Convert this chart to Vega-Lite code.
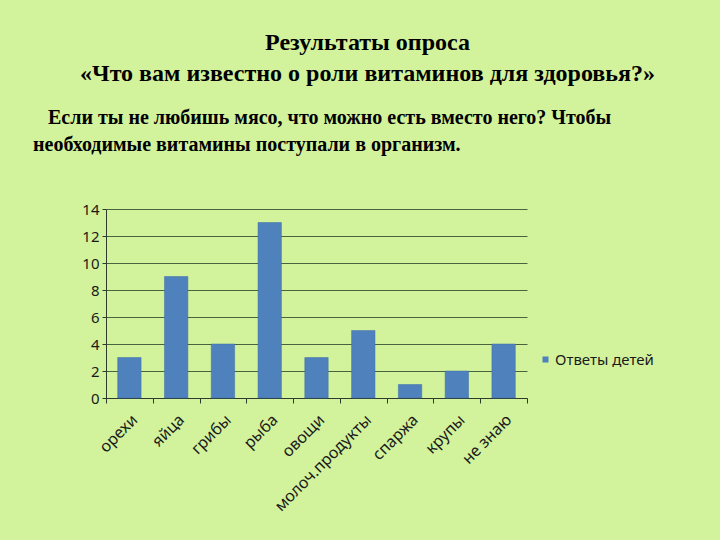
{
  "$schema": "https://vega.github.io/schema/vega-lite/v6.json",
  "background": "#d2f29c",
  "padding": {"left": 33, "top": 31, "right": 65, "bottom": 40},
  "title": {
    "text": ["Результаты опроса", "«Что вам известно о роли витаминов для здоровья?»"],
    "font": "Liberation Serif",
    "fontSize": 24,
    "fontWeight": "bold",
    "color": "#000000",
    "anchor": "middle",
    "dx": 24,
    "lineHeight": 31,
    "offset": 22
  },
  "vconcat": [
    {
      "width": 421,
      "height": 189,
      "title": {
        "text": ["\u200b\u00a0\u00a0\u00a0Если ты не любишь мясо, что можно есть вместо него? Чтобы", "необходимые витамины поступали в организм."],
        "anchor": "start",
        "frame": "group",
        "dx": -73,
        "font": "Liberation Serif",
        "fontSize": 20,
        "fontWeight": "bold",
        "color": "#000000",
        "lineHeight": 27,
        "offset": 47
      },
      "data": {
        "values": [
          {"item": "орехи", "count": 3, "series": "Ответы детей"},
          {"item": "яйца", "count": 9, "series": "Ответы детей"},
          {"item": "грибы", "count": 4, "series": "Ответы детей"},
          {"item": "рыба", "count": 13, "series": "Ответы детей"},
          {"item": "овощи", "count": 3, "series": "Ответы детей"},
          {"item": "молоч.продукты", "count": 5, "series": "Ответы детей"},
          {"item": "спаржа", "count": 1, "series": "Ответы детей"},
          {"item": "крупы", "count": 2, "series": "Ответы детей"},
          {"item": "не знаю", "count": 4, "series": "Ответы детей"}
        ]
      },
      "mark": {"type": "bar", "width": {"band": 0.5}, "stroke": "#3f6ea8", "strokeWidth": 0.5},
      "encoding": {
        "x": {
          "field": "item",
          "type": "nominal",
          "sort": null,
          "title": null,
          "scale": {"paddingInner": 0, "paddingOuter": 0},
          "axis": {
            "tickBand": "extent",
            "labelAngle": -45,
            "labelAlign": "right",
            "labelBaseline": "middle",
            "labelPadding": 14,
            "labelOffset": 5,
            "labelFont": "Noto Sans",
            "labelFontSize": 16,
            "labelColor": "#1a1a1a",
            "domainColor": "#2e3a2e",
            "tickColor": "#2e3a2e",
            "tickSize": 5,
            "grid": false
          }
        },
        "y": {
          "field": "count",
          "type": "quantitative",
          "title": null,
          "scale": {"domain": [0, 14]},
          "axis": {
            "values": [0, 2, 4, 6, 8, 10, 12, 14],
            "labelFont": "Noto Sans",
            "labelFontSize": 15,
            "labelColor": "#1a1a1a",
            "labelPadding": 3,
            "domainColor": "#2e3a2e",
            "tickColor": "#2e3a2e",
            "tickSize": 4,
            "grid": true,
            "gridColor": "#2f4a2f",
            "gridOpacity": 0.85
          }
        },
        "color": {
          "field": "series",
          "type": "nominal",
          "scale": {"range": ["#4f81bd"]},
          "legend": {
            "title": null,
            "orient": "none",
            "legendX": 432,
            "legendY": 143,
            "symbolType": "square",
            "symbolSize": 36,
            "symbolStrokeWidth": 0,
            "labelFont": "Noto Sans",
            "labelFontSize": 15,
            "labelColor": "#1a1a1a",
            "labelOffset": 2,
            "padding": 0
          }
        }
      }
    }
  ],
  "config": {
    "view": {"stroke": null}
  }
}
